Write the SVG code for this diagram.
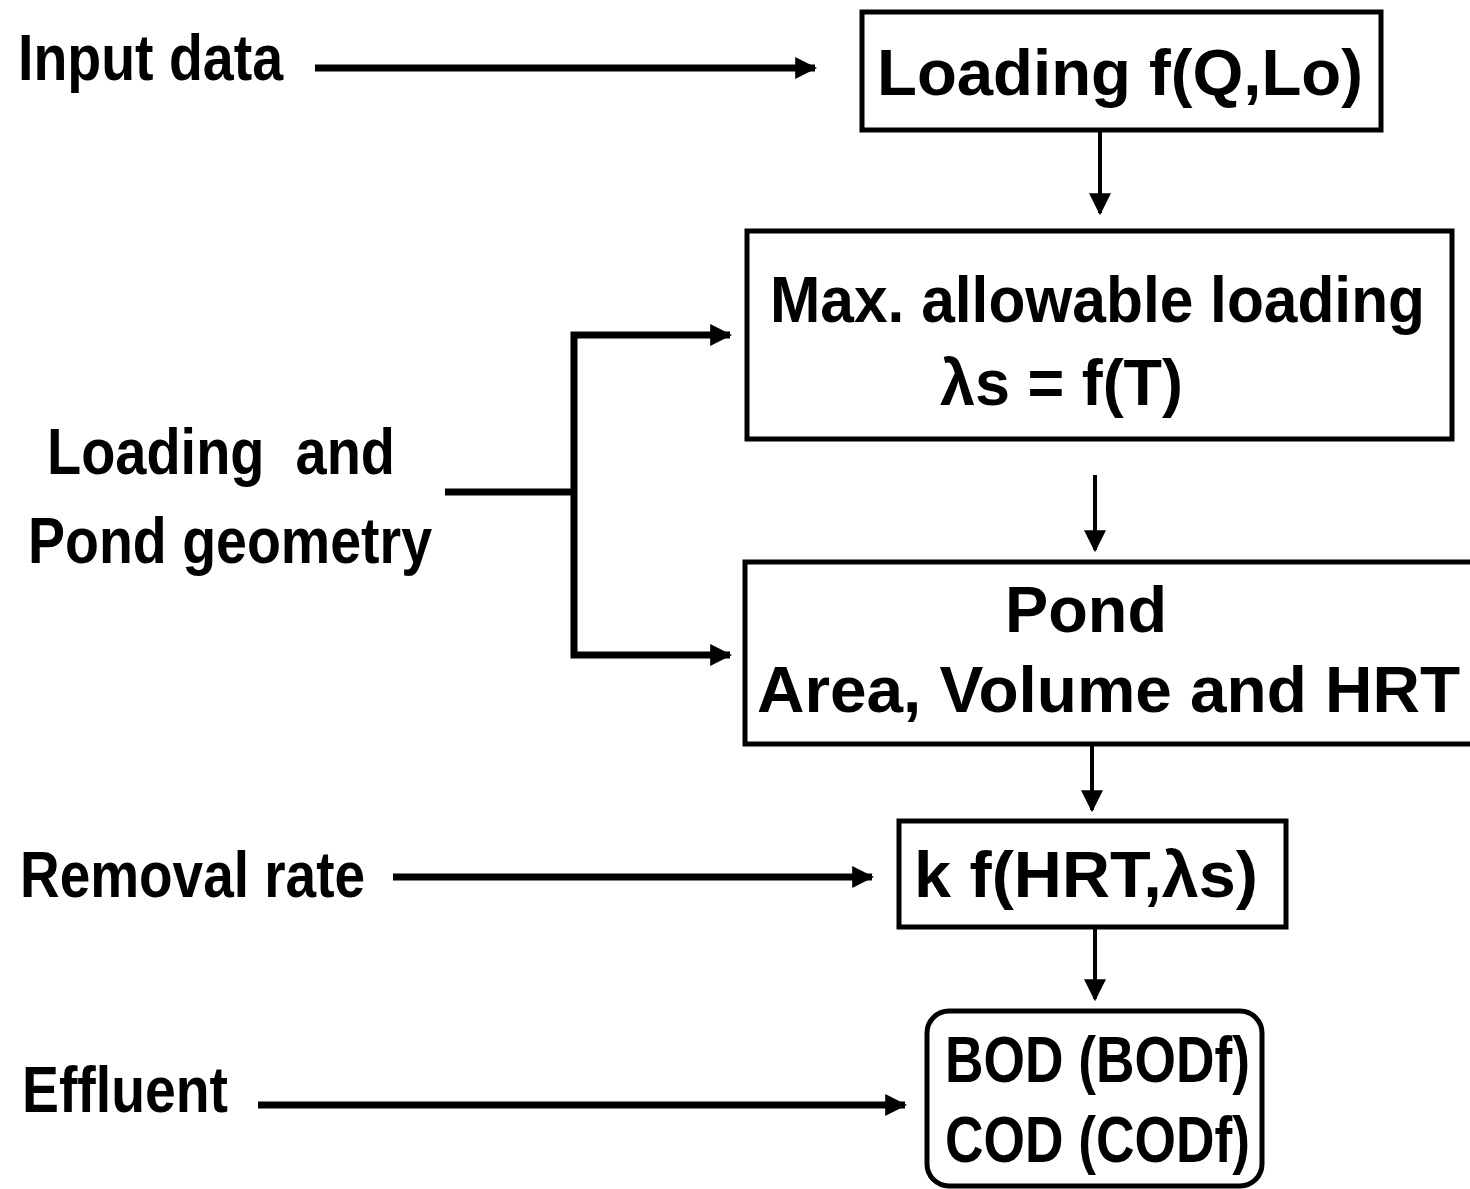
<svg xmlns="http://www.w3.org/2000/svg" width="1470" height="1189" viewBox="0 0 1470 1189">
  <style>
    .box { fill: #fff; stroke: #000; stroke-width: 5; }
    .lbl { font-family: "Liberation Sans", Arial, sans-serif; font-weight: bold; font-size: 64px; fill: #000; }
    .btx { font-family: "Liberation Sans", Arial, sans-serif; font-weight: bold; font-size: 64px; fill: #000; }
    .wire { fill: none; stroke: #000; stroke-width: 7; }
    .drop { fill: none; stroke: #000; stroke-width: 4; }
  </style>
  <defs>
    <marker id="head" viewBox="0 0 10 10" refX="9" refY="5" markerWidth="22" markerHeight="22" markerUnits="userSpaceOnUse" orient="auto">
      <path d="M0,0 L10,5 L0,10 z" fill="#000"/>
    </marker>
  </defs>
  <rect width="1470" height="1189" fill="#fff"/>

  <!-- side inputs -->
  <g id="input-data"><text class="lbl" x="18" y="80" textLength="265" lengthAdjust="spacingAndGlyphs">Input data</text></g>
  <g id="loading-geometry">
    <text class="lbl" x="47" y="474" textLength="348" lengthAdjust="spacingAndGlyphs">Loading&#160; and</text>
    <text class="lbl" x="28" y="563" textLength="404" lengthAdjust="spacingAndGlyphs">Pond geometry</text>
  </g>
  <g id="removal-rate"><text class="lbl" x="20" y="897" textLength="345" lengthAdjust="spacingAndGlyphs">Removal rate</text></g>
  <g id="effluent"><text class="lbl" x="22" y="1112" textLength="206" lengthAdjust="spacingAndGlyphs">Effluent</text></g>

  <!-- main chain -->
  <g id="loading">
    <rect class="box" x="862" y="12" width="519" height="118"/>
    <text class="btx" x="877" y="95" textLength="486" lengthAdjust="spacingAndGlyphs">Loading f(Q,Lo)</text>
  </g>
  <g id="max-loading">
    <rect class="box" x="747" y="231" width="705" height="208"/>
    <text class="btx" x="770" y="322" textLength="655" lengthAdjust="spacingAndGlyphs">Max. allowable loading</text>
    <text class="btx" x="940" y="405" textLength="243" lengthAdjust="spacingAndGlyphs">λs = f(T)</text>
  </g>
  <g id="pond">
    <rect class="box" x="745" y="562" width="730" height="182"/>
    <text class="btx" x="1005" y="632" textLength="162" lengthAdjust="spacingAndGlyphs">Pond</text>
    <text class="btx" x="757" y="712" textLength="703" lengthAdjust="spacingAndGlyphs">Area, Volume and HRT</text>
  </g>
  <g id="rate-k">
    <rect class="box" x="899" y="821" width="387" height="106"/>
    <text class="btx" x="914" y="897" textLength="344" lengthAdjust="spacingAndGlyphs">k f(HRT,λs)</text>
  </g>
  <g id="bod-cod">
    <rect class="box" x="927" y="1011" width="335" height="175" rx="22" ry="22"/>
    <text class="btx" x="945" y="1082" textLength="305" lengthAdjust="spacingAndGlyphs">BOD (BODf)</text>
    <text class="btx" x="945" y="1162" textLength="305" lengthAdjust="spacingAndGlyphs">COD (CODf)</text>
  </g>

  <g id="connectors">
    <line class="wire" x1="315" y1="68" x2="815" y2="68" marker-end="url(#head)"/>
    <line class="drop" x1="1100" y1="131" x2="1100" y2="213" marker-end="url(#head)"/>
    <line class="drop" x1="1095" y1="475" x2="1095" y2="550" marker-end="url(#head)"/>
    <line class="drop" x1="1092" y1="745" x2="1092" y2="810" marker-end="url(#head)"/>
    <line class="drop" x1="1095" y1="928" x2="1095" y2="999" marker-end="url(#head)"/>
    <line class="wire" x1="445" y1="492" x2="574" y2="492"/>
    <path class="wire" d="M574,492 V335 H730" marker-end="url(#head)"/>
    <path class="wire" d="M574,492 V655 H730" marker-end="url(#head)"/>
    <line class="wire" x1="393" y1="877" x2="872" y2="877" marker-end="url(#head)"/>
    <line class="wire" x1="258" y1="1105" x2="905" y2="1105" marker-end="url(#head)"/>
  </g>
</svg>
